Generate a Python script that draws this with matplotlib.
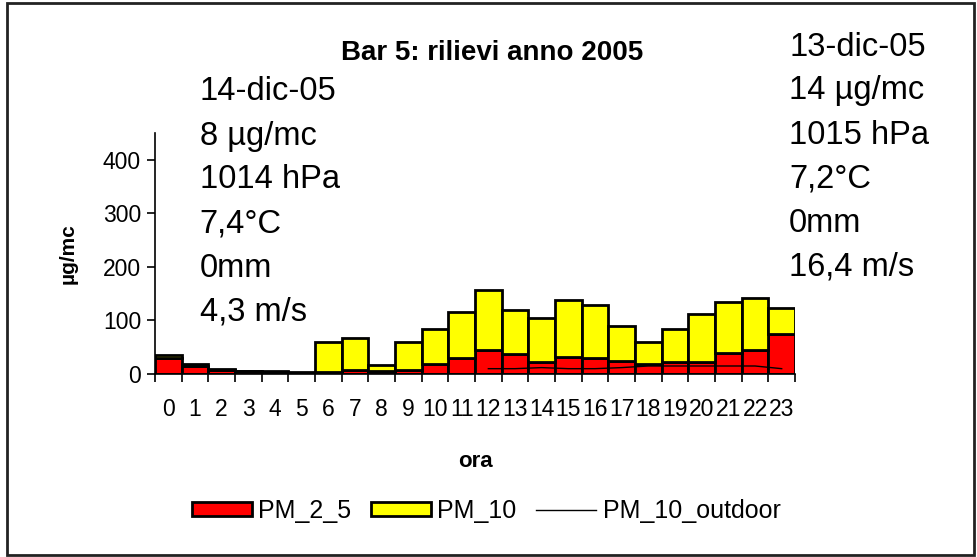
import numpy as np
import matplotlib
matplotlib.use('Agg')
import matplotlib.pyplot as plt
from matplotlib.patches import Rectangle

# --- data ---
hours = list(range(24))
pm25 = [30, 15, 8, 5, 2, 1, 3, 8, 6, 8, 19, 29, 44, 37, 22, 31,
        30, 25, 19, 22, 22, 40, 44, 75]
pm10 = [5, 3, 2, 1, 3, 2, 56, 59, 11, 51, 66, 86, 113, 83, 82, 107,
        98, 65, 40, 63, 90, 95, 98, 48]
pm10_out = [np.nan] * 12 + [10, 10, 12, 10, 10, 12, 15, 15, 15, 15, 15, 10]

left_info = ['14-dic-05', '8 µg/mc', '1014 hPa', '7,4°C', '0mm', '4,3 m/s']
right_info = ['13-dic-05', '14 µg/mc', '1015 hPa', '7,2°C', '0mm', '16,4 m/s']

plain = ['Liberation Sans', 'DejaVu Sans']

fig = plt.figure(figsize=(9.78, 5.57), dpi=100)
ax = fig.add_axes([0.1585, 0.3285, 0.6544, 0.4326])

# --- stacked bars ---
b1 = ax.bar(hours, pm25, width=1.0, color='#ff0000', edgecolor='black',
            linewidth=2.0, label='PM_2_5', zorder=2)
b2 = ax.bar(hours, pm10, width=1.0, bottom=pm25, color='#ffff00',
            edgecolor='black', linewidth=2.0, label='PM_10', zorder=2)
ln, = ax.plot(hours, pm10_out, color='black', linewidth=1.0,
              label='PM_10_outdoor', zorder=3)

ax.set_xlim(-0.5, 23.5)
ax.set_ylim(0, 450)

# --- axes styling ---
for side in ['top', 'right']:
    ax.spines[side].set_visible(False)
for side in ['left', 'bottom']:
    ax.spines[side].set_linewidth(1.2)

ax.set_yticks([0, 100, 200, 300, 400])
ax.set_xticks(hours)
ax.set_xticks(np.arange(-0.5, 24, 1), minor=True)
ax.tick_params(axis='x', which='major', length=0, pad=17)
ax.tick_params(axis='x', which='minor', length=6, width=1.2, direction='out')
ax.tick_params(axis='y', length=6, width=1.2, direction='out', pad=4)
for lbl in ax.get_xticklabels() + ax.get_yticklabels():
    lbl.set_family(plain)
    lbl.set_fontsize(16.5)

ax.set_xlabel('ora', family=plain, fontsize=16, fontweight='bold',
              labelpad=22)
ax.set_ylabel('µg/mc', family=plain, fontsize=15, fontweight='bold',
              labelpad=18)

# --- title and info text ---
fig.text(0.503, 0.905, 'Bar 5: rilievi anno 2005', family=plain,
         fontsize=20, fontweight='bold', ha='center', va='center')
for i, t in enumerate(left_info):
    fig.text(0.204, 1 - (92 + 44 * i) / 557, t, family=plain, fontsize=23.5,
             ha='left', va='center')
for i, t in enumerate(right_info):
    fig.text(0.807, 1 - (47 + 44 * i) / 557, t, family=plain, fontsize=23.5,
             ha='left', va='center')

# --- legend ---
fig.legend([b1, b2, ln], ['PM_2_5', 'PM_10', 'PM_10_outdoor'],
           loc='center', bbox_to_anchor=(0.497, 0.083), ncol=3,
           frameon=False, prop={'family': plain, 'size': 18},
           handlelength=2.4, handleheight=0.5, handletextpad=0.25,
           columnspacing=0.8)

# --- outer frame ---
fig.patches.append(Rectangle((0.007, 0.004), 0.989, 0.99,
                             transform=fig.transFigure, fill=False,
                             edgecolor='#222222', linewidth=2.0))

fig.savefig('out.png', dpi=100)
